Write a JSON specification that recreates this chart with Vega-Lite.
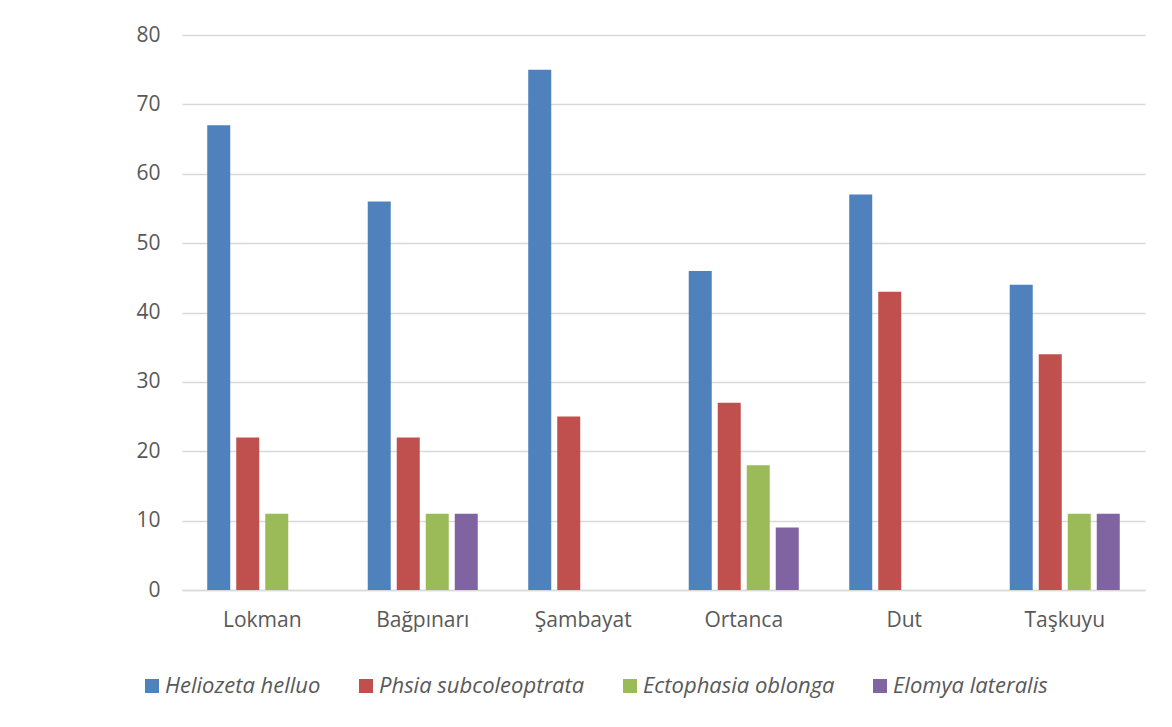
{
  "$schema": "https://vega.github.io/schema/vega-lite/v6.json",
  "width": 963,
  "height": 555,
  "autosize": {"type": "none"},
  "padding": {"left": 182, "top": 35, "right": 27, "bottom": 137},
  "background": "#ffffff",
  "config": {
    "view": {"stroke": null},
    "font": "Open Sans"
  },
  "data": {
    "values": [
      {"site": "Lokman", "species": "Heliozeta helluo", "count": 67},
      {"site": "Lokman", "species": "Phsia subcoleoptrata", "count": 22},
      {"site": "Lokman", "species": "Ectophasia oblonga", "count": 11},
      {"site": "Bağpınarı", "species": "Heliozeta helluo", "count": 56},
      {"site": "Bağpınarı", "species": "Phsia subcoleoptrata", "count": 22},
      {"site": "Bağpınarı", "species": "Ectophasia oblonga", "count": 11},
      {"site": "Bağpınarı", "species": "Elomya lateralis", "count": 11},
      {"site": "Şambayat", "species": "Heliozeta helluo", "count": 75},
      {"site": "Şambayat", "species": "Phsia subcoleoptrata", "count": 25},
      {"site": "Ortanca", "species": "Heliozeta helluo", "count": 46},
      {"site": "Ortanca", "species": "Phsia subcoleoptrata", "count": 27},
      {"site": "Ortanca", "species": "Ectophasia oblonga", "count": 18},
      {"site": "Ortanca", "species": "Elomya lateralis", "count": 9},
      {"site": "Dut", "species": "Heliozeta helluo", "count": 57},
      {"site": "Dut", "species": "Phsia subcoleoptrata", "count": 43},
      {"site": "Taşkuyu", "species": "Heliozeta helluo", "count": 44},
      {"site": "Taşkuyu", "species": "Phsia subcoleoptrata", "count": 34},
      {"site": "Taşkuyu", "species": "Ectophasia oblonga", "count": 11},
      {"site": "Taşkuyu", "species": "Elomya lateralis", "count": 11}
    ]
  },
  "mark": {"type": "bar"},
  "encoding": {
    "x": {
      "field": "site",
      "type": "nominal",
      "sort": ["Lokman", "Bağpınarı", "Şambayat", "Ortanca", "Dut", "Taşkuyu"],
      "scale": {"paddingInner": 0, "paddingOuter": 0},
      "axis": {
        "title": null,
        "labelAngle": 0,
        "labelFontSize": 21,
        "labelColor": "#595959",
        "labelPadding": 19,
        "ticks": false,
        "domainColor": "#D9D9D9",
        "domainWidth": 1.3
      }
    },
    "xOffset": {
      "field": "species",
      "type": "nominal",
      "sort": ["Heliozeta helluo", "Phsia subcoleoptrata", "Ectophasia oblonga", "Elomya lateralis"],
      "scale": {
        "domain": ["Heliozeta helluo", "Phsia subcoleoptrata", "Ectophasia oblonga", "Elomya lateralis"],
        "paddingInner": 0.207,
        "paddingOuter": 0.87
      }
    },
    "y": {
      "field": "count",
      "type": "quantitative",
      "scale": {"domain": [0, 80], "nice": false},
      "axis": {
        "title": null,
        "values": [0, 10, 20, 30, 40, 50, 60, 70, 80],
        "labelFontSize": 21,
        "labelColor": "#595959",
        "labelPadding": 22,
        "ticks": false,
        "domain": false,
        "gridColor": "#D9D9D9",
        "gridWidth": 1.3
      }
    },
    "color": {
      "field": "species",
      "type": "nominal",
      "sort": ["Heliozeta helluo", "Phsia subcoleoptrata", "Ectophasia oblonga", "Elomya lateralis"],
      "scale": {
        "domain": ["Heliozeta helluo", "Phsia subcoleoptrata", "Ectophasia oblonga", "Elomya lateralis"],
        "range": ["#4F81BD", "#C0504D", "#9BBB59", "#8064A2"]
      },
      "legend": {
        "title": null,
        "orient": "none",
        "direction": "horizontal",
        "legendX": -41,
        "legendY": 640,
        "symbolType": "square",
        "symbolSize": 196,
        "symbolStrokeWidth": 0,
        "labelFontSize": 22,
        "labelFontStyle": "italic",
        "labelColor": "#595959",
        "labelOffset": 2,
        "columnPadding": 34,
        "labelLimit": 400
      }
    }
  }
}
